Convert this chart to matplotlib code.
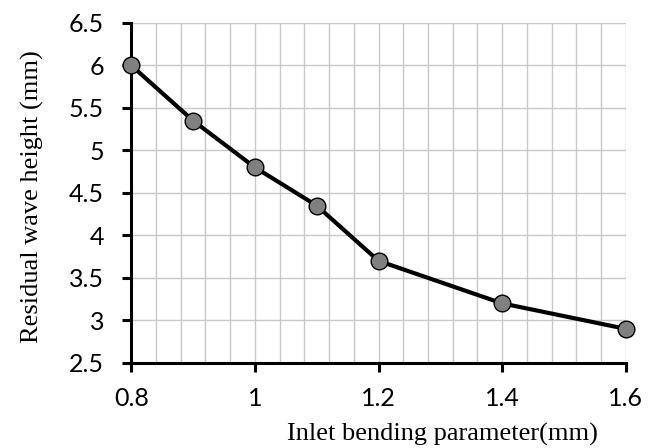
import matplotlib.pyplot as plt
from matplotlib.ticker import MultipleLocator

bend = [0.8, 0.9, 1.0, 1.1, 1.2, 1.4, 1.6]
wave = [6.0, 5.35, 4.8, 4.35, 3.7, 3.2, 2.9]
xticks = [0.8, 1.0, 1.2, 1.4, 1.6]
xlabels = ["0.8", "1", "1.2", "1.4", "1.6"]
yticks = [2.5, 3, 3.5, 4, 4.5, 5, 5.5, 6, 6.5]
ylabels = ["2.5", "3", "3.5", "4", "4.5", "5", "5.5", "6", "6.5"]

fig = plt.figure(figsize=(6.56, 4.48), dpi=100)
ax = fig.add_axes([0.2, 0.19, 0.754, 0.759])

ax.plot(bend, wave, color="black", lw=3, marker="o", ms=12,
        mfc="#808080", mec="black", mew=1.0, zorder=5, clip_on=False)

ax.set_xlim(0.8, 1.6)
ax.set_ylim(2.5, 6.5)
ax.set_xticks(xticks)
ax.set_xticklabels(xlabels)
ax.set_yticks(yticks)
ax.set_yticklabels(ylabels)
ax.xaxis.set_minor_locator(MultipleLocator(0.04))

ax.grid(which="major", axis="y", color="#c8c8c8", lw=1.0)
ax.grid(which="both", axis="x", color="#c8c8c8", lw=1.0)
ax.set_axisbelow(True)

for s in ["top", "right"]:
    ax.spines[s].set_visible(False)
for s in ["left", "bottom"]:
    ax.spines[s].set_linewidth(2.2)
    ax.spines[s].set_zorder(4)

ax.tick_params(which="major", length=6.5, width=2.2, labelsize=18)
ax.tick_params(which="minor", length=0)
ax.tick_params(axis="x", pad=11)
ax.tick_params(axis="y", pad=13)
for lab in ax.get_xticklabels() + ax.get_yticklabels():
    lab.set_family(["Lato", "DejaVu Sans"])

ax.set_xlabel("Inlet bending parameter(mm)", family="Liberation Serif", fontsize=19)
ax.set_ylabel("Residual wave height (mm)", family="Liberation Serif", fontsize=19)
ax.xaxis.label.set(va="center", ha="center")
ax.yaxis.label.set(va="center", ha="center")
ax.xaxis.set_label_coords(0.63, -0.21)
ax.yaxis.set_label_coords(-0.2, 0.49)

fig.savefig("out.png", dpi=100)
